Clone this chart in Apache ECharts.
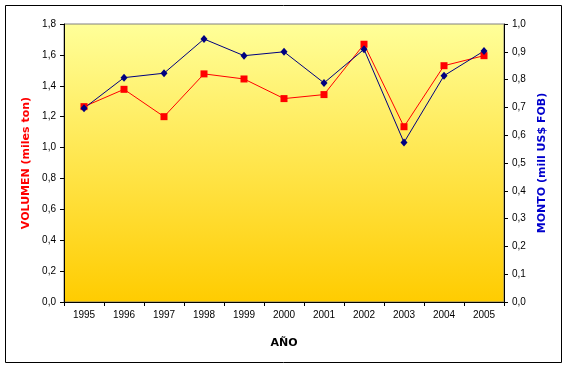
<!DOCTYPE html>
<html>
<head>
<meta charset="utf-8">
<script src="https://cdn.jsdelivr.net/npm/echarts@6/dist/echarts.min.js"></script>
<style>html,body{margin:0;padding:0;background:#fff}#c{width:567px;height:368px}</style>
</head>
<body>
<div id="c"></div>
<script>
const years = ['1995','1996','1997','1998','1999','2000','2001','2002','2003','2004','2005'];
const volumen = [1.265, 1.377, 1.20, 1.477, 1.444, 1.317, 1.343, 1.669, 1.135, 1.530, 1.595];
const monto = [0.697, 0.807, 0.823, 0.946, 0.886, 0.900, 0.788, 0.909, 0.574, 0.814, 0.903];
const leftAxisName = 'VOLUMEN (miles ton)';
const rightAxisName = 'MONTO (mill US$ FOB)';
const xAxisName = 'AÑO';

const chart = echarts.init(document.getElementById('c'), null, {renderer:'canvas'});
const fmt1 = v => v.toFixed(1).replace('.', ',');
const lab = {color:'#000', fontFamily:'Liberation Sans', fontSize:10, margin:8};
chart.setOption({
  animation:false,
  backgroundColor:'#fff',
  graphic:[{type:'rect', shape:{x:5.5,y:5.5,width:556,height:357}, style:{fill:null, stroke:'#000', lineWidth:1}, z:-10}],
  grid:{left:64, top:24, width:440, height:278, show:true, borderColor:'#808080', borderWidth:1,
    backgroundColor:new echarts.graphic.LinearGradient(0,0,0,1,[{offset:0,color:'#FFFF99'},{offset:1,color:'#FFCC00'}])},
  xAxis:{type:'category', data:years, boundaryGap:true,
    name:xAxisName, nameLocation:'middle', nameGap:36,
    nameTextStyle:{fontFamily:'DejaVu Sans', fontWeight:'bold', fontSize:11, color:'#000'},
    axisLine:{lineStyle:{color:'#000', width:1}},
    axisTick:{show:true, length:4, alignWithLabel:false, lineStyle:{color:'#000'}},
    axisLabel:lab, splitLine:{show:false}},
  yAxis:[
    {type:'value', min:0, max:1.8, interval:0.2, position:'left',
     name:leftAxisName, nameLocation:'middle', nameGap:31, nameRotate:90,
     nameTextStyle:{fontFamily:'DejaVu Sans', fontWeight:'bold', fontSize:11, color:'#FF0000'},
     axisLine:{show:true, lineStyle:{color:'#000'}}, axisTick:{show:true, length:4, lineStyle:{color:'#000'}},
     axisLabel:Object.assign({formatter:fmt1}, lab), splitLine:{show:false}},
    {type:'value', min:0, max:1.0, interval:0.1, position:'right',
     name:rightAxisName, nameLocation:'middle', nameGap:32, nameRotate:90,
     nameTextStyle:{fontFamily:'DejaVu Sans', fontWeight:'bold', fontSize:11, color:'#0000CC'},
     axisLine:{show:true, lineStyle:{color:'#000'}}, axisTick:{show:true, length:4, lineStyle:{color:'#000'}},
     axisLabel:Object.assign({formatter:fmt1}, lab), splitLine:{show:false}}
  ],
  series:[
    {name:'Volumen', type:'line', yAxisIndex:0, data:volumen, symbol:'rect', symbolSize:7,
     lineStyle:{color:'#FF0000', width:1}, itemStyle:{color:'#FF0000'}},
    {name:'Monto', type:'line', yAxisIndex:1, data:monto, symbol:'diamond', symbolSize:[7,8],
     lineStyle:{color:'#000080', width:1}, itemStyle:{color:'#000080'}}
  ]
});
</script>
</body>
</html>
